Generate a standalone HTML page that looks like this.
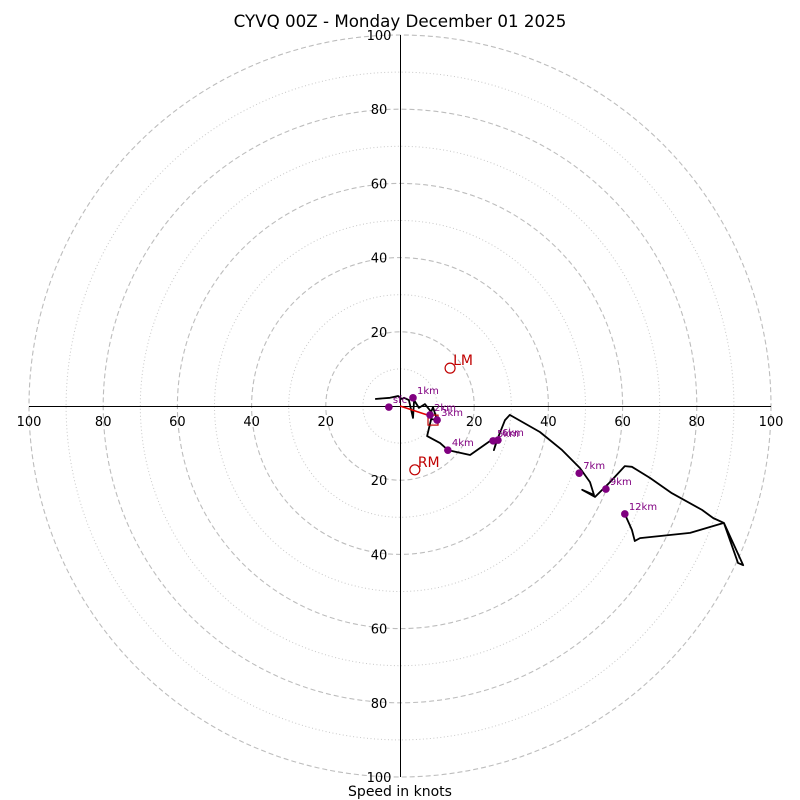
<!DOCTYPE html>
<html><head><meta charset="utf-8"><style>
body{margin:0;background:#fff;font-family:"Liberation Sans","DejaVu Sans",sans-serif}
svg{display:block}
</style></head><body>
<svg id="c" width="800" height="800" font-family="DejaVu Sans, Liberation Sans, sans-serif">
<text x="400" y="27" text-anchor="middle" font-size="16.7">CYVQ 00Z - Monday December 01 2025</text>
<text x="400" y="796" text-anchor="middle" font-size="14">Speed in knots</text>
<g id="grid"></g>
<g id="axes"></g>
<g id="plot"></g>
</svg>
<script>
const ringsMajor=[20,40,60,80,100];
const ringsMinor=[10,30,50,70,90];
const tickLabels=[20,40,60,80,100];
const traceU=[-6.7,-2.7,-0.5,0.5,1.1,2.4,3.5,3.8,5.1,6.7,8.4,8.9,10.0,8.4,7.3,10.8,12.9,18.9,24.3,26.1,25.3,26.4,28.3,29.6,37.7,43.7,48.5,51.2,52.3,49.1,52.6,56.6,60.6,62.5,67.4,73.3,81.4,84.4,87.3,92.5,91.1,87.3,78.2,64.7,63.3,62.5,60.6];
const traceV=[1.9,2.2,2.7,1.9,2.2,1.6,-3.2,1.6,-0.5,0.5,-1.6,-0.3,-3.8,-3.5,-8.1,-10.0,-11.9,-13.2,-9.4,-9.2,-11.9,-8.6,-3.8,-2.4,-7.0,-11.9,-16.7,-20.5,-24.0,-22.6,-24.5,-20.5,-16.2,-16.4,-19.4,-23.5,-28.0,-30.2,-31.5,-42.9,-42.3,-31.5,-34.2,-35.6,-36.4,-33.4,-29.1];
const markerLabels=["sfc","1km","2km","3km","4km","5km","6km","7km","9km","12km"];
const markerU=[-3.0,3.5,8.1,10.0,12.9,25.1,26.4,48.3,55.5,60.6];
const markerV=[-0.3,2.2,-2.4,-3.8,-11.9,-9.4,-9.2,-18.1,-22.4,-29.1];
const stormLabels=["LM","RM"];
const stormU=[13.5,4.0];
const stormV=[10.2,-17.2];
const meanU=[8.9];
const meanV=[-3.8];

const CX=400,CY=406,S=3.71;
const sx=u=>CX+u*S, sy=v=>CY-v*S;
const NS="http://www.w3.org/2000/svg";
function mk(tag,attrs,parent,txt){const e=document.createElementNS(NS,tag);for(const k in attrs)e.setAttribute(k,attrs[k]);if(txt!==undefined)e.textContent=txt;parent.appendChild(e);return e;}
const grid=document.getElementById('grid'),axes=document.getElementById('axes'),plot=document.getElementById('plot');
ringsMinor.forEach(r=>{const c=mk('circle',{cx:CX,cy:CY,r:r*S,fill:'none',stroke:'#c8c8c8','stroke-width':1,'stroke-dasharray':'1,2.5'},grid);

});
ringsMajor.forEach(r=>{const c=mk('circle',{cx:CX,cy:CY,r:r*S,fill:'none',stroke:'#bdbdbd','stroke-width':1.1,'stroke-dasharray':'5,3'},grid);

});
let l=mk('line',{x1:sx(-100),y1:CY+0.5,x2:sx(100),y2:CY+0.5,stroke:'#000','stroke-width':1},axes);


l=mk('line',{x1:CX+0.5,y1:sy(100),x2:CX+0.5,y2:sy(-100),stroke:'#000','stroke-width':1},axes);


tickLabels.forEach(t=>{[-1,1].forEach(s=>{
 let a=mk('text',{x:sx(s*t),y:CY+20,'text-anchor':'middle','font-size':13},axes,String(t));
 
 
 let b=mk('text',{x:CX-21,y:sy(s*t)+5,'text-anchor':'middle','font-size':13},axes,String(t));
 
 
});});
const pts=traceU.map((u,i)=>sx(u).toFixed(1)+','+sy(traceV[i]).toFixed(1)).join(' ');
const pl=mk('polyline',{points:pts,fill:'none',stroke:'#000','stroke-width':1.8,'stroke-linejoin':'round'},plot);


const ar=mk('line',{x1:CX,y1:CY,x2:sx(meanU[0]-1),y2:sy(meanV[0]+1.2),stroke:'#e00000','stroke-width':1.6},plot);


const sq=mk('rect',{x:sx(meanU[0])-5,y:sy(meanV[0])-5,width:10,height:10,fill:'none',stroke:'#c00000','stroke-width':1.2},plot);


markerU.forEach((u,i)=>{
 const c=mk('circle',{cx:sx(u),cy:sy(markerV[i]),r:3.8,fill:'#800080'},plot);
 
 
 const t=mk('text',{x:sx(u)+4,y:sy(markerV[i])-4,'font-size':10,fill:'#800080'},plot,markerLabels[i]);
 
 
});
stormU.forEach((u,i)=>{
 const c=mk('circle',{cx:sx(u),cy:sy(stormV[i]),r:5,fill:'none',stroke:'#c00000','stroke-width':1.2},plot);
 
 
 const t=mk('text',{x:sx(u)+3,y:sy(stormV[i])-3,'font-size':14,fill:'#c00000'},plot,stormLabels[i]);
 
 
});
</script>
</body></html>
